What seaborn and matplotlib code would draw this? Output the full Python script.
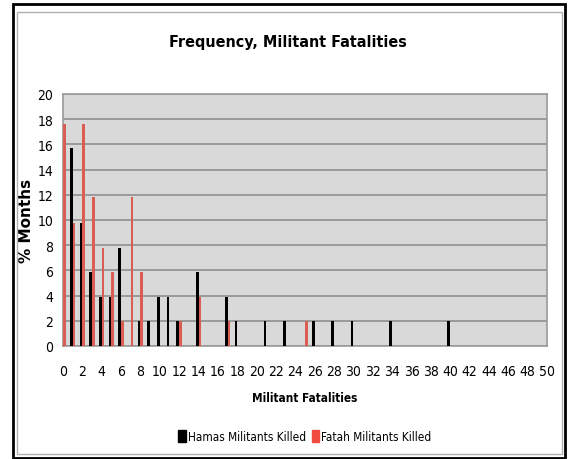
import pandas as pd
import matplotlib.pyplot as plt
import matplotlib.patches as mpatches
import seaborn as sns

# % of months with a given number of militant fatalities
hamas_killed = [1, 2, 3, 4, 5, 6, 8, 9, 10, 11, 12, 14, 17, 18, 21, 23, 26, 28, 30, 34, 40]
hamas_pct = [15.7, 9.8, 5.9, 3.9, 3.9, 7.8, 2.0, 2.0, 3.9, 3.9, 2.0, 5.9, 3.9, 2.0,
             2.0, 2.0, 2.0, 2.0, 2.0, 2.0, 2.0]

fatah_killed = [0, 1, 2, 3, 4, 5, 6, 7, 8, 12, 14, 17, 25]
fatah_pct = [17.6, 9.8, 17.6, 11.8, 7.8, 5.9, 2.0, 11.8, 5.9, 2.0, 3.9, 2.0, 2.0]

series = ["Hamas Militants Killed", "Fatah Militants Killed"]
colors = ["#000000", "#f04a3e"]

df = pd.concat([
    pd.DataFrame({"killed": hamas_killed, "pct": hamas_pct, "series": series[0]}),
    pd.DataFrame({"killed": fatah_killed, "pct": fatah_pct, "series": series[1]}),
])

sns.set_style("white")
plt.rcParams["font.family"] = ["DejaVu Sans"]
plt.rcParams["font.stretch"] = "condensed"
plt.rcParams["text.color"] = "black"
plt.rcParams["axes.labelcolor"] = "black"
plt.rcParams["xtick.color"] = "black"
plt.rcParams["ytick.color"] = "black"

fig = plt.figure(figsize=(5.68, 4.60), dpi=100)
ax = fig.add_axes([63 / 568, 113 / 460, 484 / 568, 252 / 460])

sns.barplot(
    data=df, x="killed", y="pct", hue="series",
    hue_order=series, palette=colors,
    native_scale=True, width=0.56, gap=0.0, linewidth=0,
    errorbar=None, ax=ax, legend=False, zorder=3
)

ax.set_facecolor("#d9d9d9")
ax.set_xlim(0, 50)
ax.set_ylim(0, 20)
ax.set_xticks(range(0, 51, 2))
ax.set_xticks(range(0, 51), minor=True)
ax.set_yticks(range(0, 21, 2))
ax.yaxis.grid(True, color="#8f8f8f", linewidth=1.2, zorder=0)
ax.set_axisbelow(True)
for s in ax.spines.values():
    s.set_color("#9a9a9a")
    s.set_linewidth(1.2)
ax.tick_params(axis="both", which="both", direction="out", length=4,
               color="#9a9a9a", labelsize=10)
ax.tick_params(axis="y", which="major", pad=3)
ax.tick_params(axis="x", which="major", pad=9)

ax.set_xlabel("Militant Fatalities", fontsize=8.5, fontweight="bold", labelpad=9)
ax.set_ylabel("% Months", fontsize=11, fontweight="bold", fontstretch="normal",
              va="center")
ax.yaxis.set_label_coords(-36 / 484, 0.5)
fig.text(0.507, 0.907, "Frequency, Militant Fatalities", ha="center", va="center",
         fontsize=11.5, fontweight="bold")

handles = [mpatches.Patch(color=c, label=l) for c, l in zip(colors, series)]
fig.legend(handles=handles, loc="center", bbox_to_anchor=(0.537, 0.049), ncol=2,
           frameon=False, fontsize=8.5, handlelength=0.6, handleheight=1.2,
           handletextpad=0.2, columnspacing=0.5)

# chart frame
fig.patches.append(mpatches.Rectangle((13 / 568, 1 / 460), 552 / 568, 454 / 460,
                                      transform=fig.transFigure, fill=False,
                                      edgecolor="black", linewidth=2))
fig.patches.append(mpatches.Rectangle((17 / 568, 5 / 460), 545 / 568, 442 / 460,
                                      transform=fig.transFigure, fill=False,
                                      edgecolor="#b0b0b0", linewidth=1))

fig.savefig("out.png", dpi=100)
